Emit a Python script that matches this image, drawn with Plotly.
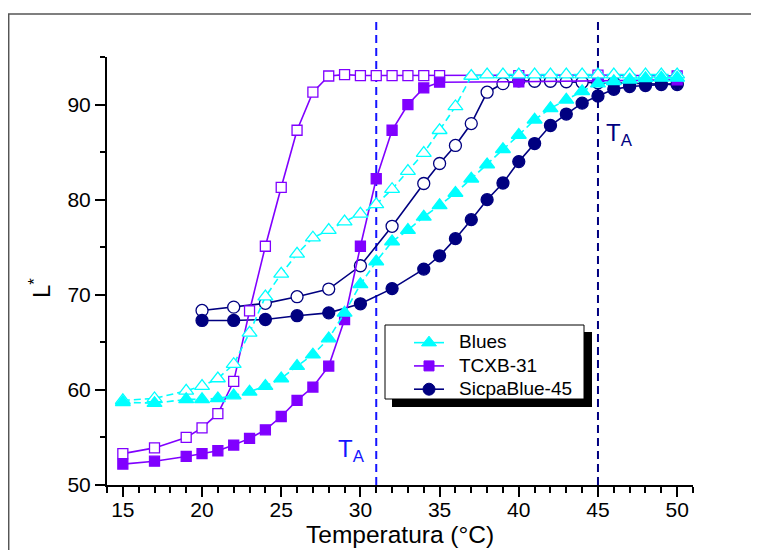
import plotly.graph_objects as go

# ---------------- data ----------------
blues_T = [15, 17, 19, 20, 21, 22, 23, 24, 25, 26, 27, 28, 29, 30, 31, 32, 33, 34, 35,
           36, 37, 38, 39, 40, 41, 42, 43, 44, 45, 46, 47, 48, 49, 50]
blues_closed = [58.7, 58.6, 59.0, 59.0, 59.1, 59.4, 59.8, 60.4, 61.2, 62.5, 63.7, 65.4, 68.1,
                71.1, 73.5, 75.6, 76.8, 78.2, 79.4, 80.7, 82.2, 83.7, 85.3, 86.8, 88.4, 89.6,
                90.5, 91.4, 92.2, 92.45, 92.6, 92.75, 92.8, 92.8]
blues_open = [58.9, 59.1, 59.9, 60.4, 61.2, 62.7, 66.0, 69.8, 72.2, 74.3, 76.0, 76.8, 77.7,
              78.5, 79.5, 81.1, 83.0, 84.9, 87.3, 89.8, 93.0, 93.15, 93.15, 93.15, 93.15,
              93.15, 93.15, 93.15, 93.15, 93.15, 93.15, 93.15, 93.15, 93.15]

tcxb_T = [15, 17, 19, 20, 21, 22, 23, 24, 25, 26, 27, 28, 29, 30, 31, 32, 33, 34, 35, 40, 45, 50]
tcxb_closed = [52.2, 52.5, 53.0, 53.3, 53.6, 54.2, 54.9, 55.8, 57.2, 58.9, 60.3, 62.5, 67.4,
               75.1, 82.2, 87.3, 90.0, 91.75, 92.35, 92.4, 92.5, 92.6]
tcxb_open = [53.3, 53.9, 55.0, 56.0, 57.5, 60.9, 68.3, 75.1, 81.3, 87.3, 91.3, 93.0, 93.15,
             93.05, 93.05, 93.05, 93.05, 93.05, 93.05, 93.05, 93.1, 93.0]

sicpa_T = [20, 22, 24, 26, 28, 30, 32, 34, 35, 36, 37, 38, 39, 40, 41, 42, 43, 44, 45,
           46, 47, 48, 49, 50]
sicpa_closed = [67.3, 67.3, 67.4, 67.8, 68.1, 69.05, 70.65, 72.7, 74.1, 75.9, 77.9, 80.0,
                81.75, 84.0, 85.9, 87.8, 89.0, 90.15, 90.9, 91.6, 91.9, 92.0, 92.1, 92.2]
sicpa_open = [68.35, 68.7, 69.1, 69.8, 70.6, 73.05, 77.2, 81.7, 83.8, 85.7, 88.0, 91.3,
              92.2, 92.5, 92.45, 92.45, 92.4, 92.35, 92.3, 92.3, 92.25, 92.2, 92.2, 92.1]

series_names = ["Blues", "TCXB-31", "SicpaBlue-45"]
ta_values = [31, 45]

# ---------------- styles ----------------
CYAN = "#00FFFF"
PURPLE = "#8000FF"
NAVY = "#000080"
BLUE = "#1414FF"
FONT = "Liberation Sans, Arial, sans-serif"

fig = go.Figure()

def add(x, y, color, symbol, size, filled, dash):
    fig.add_trace(go.Scatter(
        x=x, y=y, mode="lines+markers", showlegend=False,
        line=dict(color=color, width=1.6, dash=dash),
        marker=dict(symbol=symbol, size=size,
                    color=color if filled else "white",
                    line=dict(color=color, width=1.3)),
        hoverinfo="skip"))

add(sicpa_T, sicpa_open, NAVY, "circle", 12, False, "solid")
add(sicpa_T, sicpa_closed, NAVY, "circle", 12, True, "solid")
add(tcxb_T, tcxb_open, PURPLE, "square", 10, False, "solid")
add(tcxb_T, tcxb_closed, PURPLE, "square", 10, True, "solid")
add(blues_T, blues_open, CYAN, "triangle-up", 13, False, "7px,4px")
add(blues_T, blues_closed, CYAN, "triangle-up", 13, True, "7px,4px")

# legend swatches (labels are drawn as annotations below)
legend_styles = [(CYAN, "triangle-up", 13), (PURPLE, "square", 10), (NAVY, "circle", 12)]
for rk, (col, sym, sz) in enumerate(legend_styles):
    fig.add_trace(go.Scatter(x=[None], y=[None], mode="lines+markers", name=" ",
                             legendrank=rk + 1,
                             line=dict(color=col, width=1.6),
                             marker=dict(symbol=sym, size=sz, color=col,
                                         line=dict(color=col, width=1))))

# figure geometry (page offset of 8px from the html body margin)
OFF = 8
W, H = 751, 542
L, T = 99, 49
pw, ph = 586, 428
R, B = W - L - pw, H - T - ph

def px_x(p):  # page pixel -> paper x
    return (p - OFF - L) / pw

def px_y(p):  # page pixel -> paper y
    return (H - B - (p - OFF)) / ph

shapes = []
# outer gray frame
shapes.append(dict(type="rect", xref="paper", yref="paper",
                   x0=px_x(8.7), x1=px_x(790), y0=px_y(580), y1=px_y(14),
                   line=dict(color="#555555", width=1.5), fillcolor="rgba(0,0,0,0)",
                   layer="below"))
# T_A vertical lines
for xv, col in zip(ta_values, [BLUE, NAVY]):
    shapes.append(dict(type="line", xref="x", yref="paper", x0=xv, x1=xv,
                       y0=0, y1=px_y(20), line=dict(color=col, width=2, dash="8px,5px"),
                       layer="below"))
# legend shadow and box
shapes.append(dict(type="rect", xref="paper", yref="paper",
                   x0=px_x(392), x1=px_x(592), y0=px_y(407), y1=px_y(332),
                   fillcolor="black", line=dict(width=0), layer="above"))
shapes.append(dict(type="rect", xref="paper", yref="paper",
                   x0=px_x(385), x1=px_x(584), y0=px_y(399), y1=px_y(325),
                   fillcolor="white", line=dict(color="black", width=1), layer="above"))

annotations = [
    dict(text="T<sub>A</sub>", x=px_x(336), y=px_y(450), xref="paper", yref="paper",
         xanchor="left", yanchor="middle", showarrow=False,
         font=dict(family=FONT, size=24, color=BLUE)),
    dict(text="T<sub>A</sub>", x=px_x(604), y=px_y(134), xref="paper", yref="paper",
         xanchor="left", yanchor="middle", showarrow=False,
         font=dict(family=FONT, size=24, color=NAVY)),
    dict(text="Temperatura (°C)", x=0.5, y=px_y(534), xref="paper", yref="paper",
         xanchor="center", yanchor="middle", showarrow=False,
         font=dict(family=FONT, size=24.5, color="black")),
    dict(text="L<sup>*</sup>", x=px_x(40), y=px_y(288), xref="paper", yref="paper",
         xanchor="center", yanchor="middle", showarrow=False, textangle=-90,
         font=dict(family=FONT, size=24, color="black")),
]
for name, yc in zip(series_names, [341.7, 365.0, 388.3]):
    annotations.append(dict(text=name, x=px_x(457), y=px_y(yc), xref="paper", yref="paper",
                            xanchor="left", yanchor="middle", showarrow=False,
                            font=dict(family=FONT, size=19, color="black")))

fig.update_layout(
    width=W, height=H,
    margin=dict(l=L, r=R, t=T, b=B, pad=0),
    paper_bgcolor="white", plot_bgcolor="white",
    font=dict(family=FONT, color="black"),
    shapes=shapes, annotations=annotations,
    showlegend=True,
    legend=dict(x=px_x(409), y=px_y(326), xanchor="left", yanchor="top",
                bgcolor="rgba(0,0,0,0)", borderwidth=0,
                font=dict(family=FONT, size=15.6, color="black"),
                tracegroupgap=0),
    xaxis=dict(range=[14, 51], tick0=15, dtick=5, showgrid=False, zeroline=False,
               showline=True, linecolor="black", linewidth=2,
               ticks="outside", ticklen=10, tickwidth=1.5, tickcolor="black",
               ticklabelstandoff=-5,
               tickfont=dict(family=FONT, size=21, color="black"),
               minor=dict(dtick=1, ticks="outside", ticklen=6, tickwidth=1.5,
                          tickcolor="black", showgrid=False)),
    yaxis=dict(range=[50, 95], tick0=50, dtick=10, showgrid=False, zeroline=False,
               showline=True, linecolor="black", linewidth=2,
               ticks="outside", ticklen=10, tickwidth=1.5, tickcolor="black",
               tickfont=dict(family=FONT, size=21, color="black"),
               minor=dict(dtick=5, ticks="outside", ticklen=5, tickwidth=1.5,
                          tickcolor="black", showgrid=False)),
)

fig.write_html("out.html")
